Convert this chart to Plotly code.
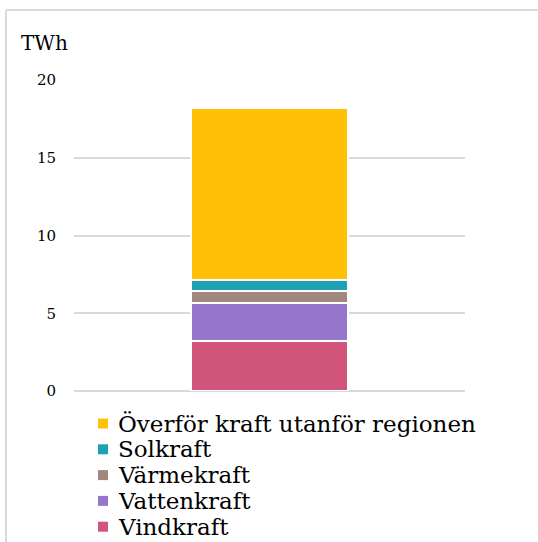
import plotly.graph_objects as go

# Elproduktion i regionen, TWh (staplad stapel)
kategorier = ["Region"]
serier = ["Vindkraft", "Vattenkraft", "Värmekraft", "Solkraft", "Överför kraft utanför regionen"]
varden = [3.2, 2.45, 0.8, 0.7, 11.05]
farger = ["#D2557C", "#9676CD", "#A1887F", "#1DA1B5", "#FFC107"]
y_ticks = [0, 5, 10, 15, 20]

W, H = 538, 542
L, R, T, B = 74, 73, 80, 151
PW, PH = W - L - R, H - T - B
FONT = "DejaVu Serif"


def px_x(x):
    return (x - L) / PW


def px_y(y):
    return (H - B - y) / PH


fig = go.Figure()
for namn, v, f in zip(serier, varden, farger):
    fig.add_trace(go.Bar(
        x=kategorier, y=[v], name=namn,
        marker=dict(color=f, line=dict(color="white", width=2)),
        width=0.4, showlegend=False,
    ))

# Förklaring: kvadrat + text, översta serien först
rad0, radsteg = 423.5, 25.8
for i, (namn, f) in enumerate(zip(serier[::-1], farger[::-1])):
    y = rad0 + i * radsteg
    fig.add_shape(type="rect", xref="paper", yref="paper",
                  x0=px_x(98), x1=px_x(108), y0=px_y(y - 5), y1=px_y(y + 5),
                  fillcolor=f, line=dict(width=0))
    fig.add_annotation(xref="paper", yref="paper", x=px_x(116), y=px_y(y),
                       text=namn, showarrow=False, xanchor="left", yanchor="middle",
                       font=dict(family=FONT, size=23, color="#000000"))

# Enhet
fig.add_annotation(xref="paper", yref="paper", x=px_x(19), y=px_y(43),
                   text="TWh", showarrow=False, xanchor="left", yanchor="middle",
                   font=dict(family=FONT, size=20, color="#000000"))

# Ram
ram = dict(color="#d9d9d9", width=2)
fig.add_shape(type="line", xref="paper", yref="paper",
              x0=px_x(6), x1=px_x(6), y0=px_y(10), y1=px_y(H + 5), line=ram)
fig.add_shape(type="line", xref="paper", yref="paper",
              x0=px_x(6), x1=px_x(W + 5), y0=px_y(10), y1=px_y(10), line=ram)

fig.update_layout(
    width=W, height=H, margin=dict(l=L, r=R, t=T, b=B),
    barmode="stack", bargap=0.6,
    plot_bgcolor="white", paper_bgcolor="white",
    font=dict(family=FONT, color="#000000"),
    xaxis=dict(showticklabels=False, showgrid=False, zeroline=False, showline=False, ticks=""),
    yaxis=dict(range=[0, 20], tickvals=y_ticks, showgrid=True, gridcolor="#d9d9d9", gridwidth=2,
               zeroline=True, zerolinecolor="#d9d9d9", zerolinewidth=2, showline=False,
               ticks="", ticklabelstandoff=17, tickfont=dict(family=FONT, size=15, color="#000000")),
)

fig.write_html("out.html")
